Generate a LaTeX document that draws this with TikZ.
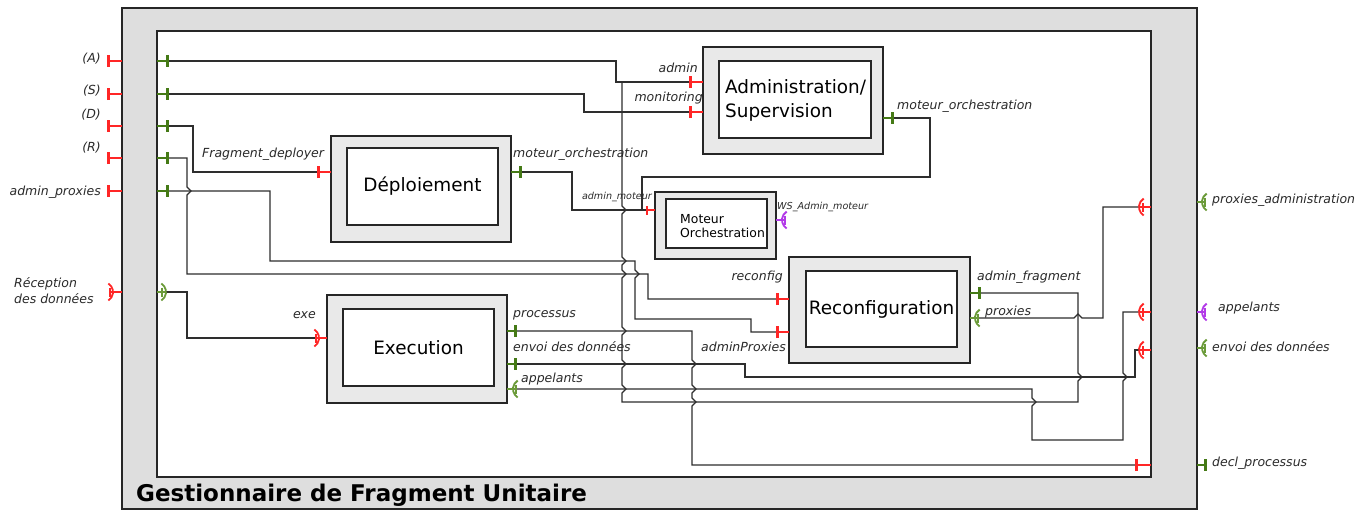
\documentclass[tikz,border=0pt]{standalone}
\usepackage{fontspec}
\setmainfont{DejaVu Sans}
\definecolor{pred}{HTML}{FF2626}
\definecolor{pgreen}{HTML}{457A16}
\definecolor{psgreen}{HTML}{6A9A38}
\definecolor{ppurple}{HTML}{B23AE8}
\definecolor{wirec}{HTML}{2E2E2E}
\definecolor{boxline}{HTML}{262626}
\definecolor{framegray}{HTML}{DEDEDE}
\definecolor{boxgray}{HTML}{E9E9E9}
\definecolor{lblc}{HTML}{2A2A2A}
\tikzset{
  plen/.code={\def\plen{#1}},
  plen=10,
  tport/.pic={
    \draw[line width=1.6pt] (0,0) -- (\plen,0);
    \draw[line width=3pt] (\plen,-6) -- (\plen,6);
  },
  tsmall/.pic={
    \draw[line width=1.4pt] (0,0) -- (\plen,0);
    \draw[line width=2.4pt] (\plen,-4.5) -- (\plen,4.5);
  },
  sockout/.pic={
    \draw[line width=1.6pt] (0,0) -- (\plen+3,0);
    \draw[line width=1.6pt] (\plen+3,-4.5) -- (\plen+3,4.5);
    \draw[line width=1.8pt] (\plen+10,0) ++(122:10) arc[start angle=122,end angle=238,radius=10];
  },
  sockin/.pic={
    \draw[line width=1.6pt] (0,0) -- (\plen+4,0);
    \draw[line width=1.6pt] (\plen,-4.5) -- (\plen,4.5);
    \draw[line width=1.8pt] (\plen-6,0) ++(-58:10) arc[start angle=-58,end angle=58,radius=10];
  },
}
\begin{document}
\begin{tikzpicture}[x=1pt,y=-1pt,
  wire/.style={draw=wirec,line width=1.2pt},
  cbox/.style={draw=boxline,fill=boxgray,line width=2pt,inner sep=0pt},
  ibox/.style={draw=boxline,fill=white,line width=2pt,inner sep=0pt,font=\fontsize{18.4}{24}\selectfont},
  lbl/.style={inner sep=0pt,text=lblc,font=\fontsize{12.5}{15}\selectfont\itshape},
  slbl/.style={inner sep=0pt,text=lblc,font=\fontsize{9.6}{11}\selectfont\itshape},
]
\useasboundingbox (0,0) rectangle (1359,511);
% frame
\node[draw=boxline,fill=framegray,line width=2pt,inner sep=0pt,minimum width=1075,minimum height=501] (frame) at (659.5,258.5) {};
\node[draw=boxline,fill=white,line width=2pt,inner sep=0pt,minimum width=994,minimum height=446] (inner) at (654,254) {};
\node[anchor=west,inner sep=0pt,font=\fontsize{23}{28}\selectfont\bfseries] (title) at (136,495) {Gestionnaire de Fragment Unitaire};

% components
\node[cbox,minimum width=180,minimum height=106] (dep) at (421,189) {};
\node[ibox,minimum width=151,minimum height=77] (depi) at (422.5,186.5) {Déploiement};
\node[cbox,minimum width=180,minimum height=107] (adm) at (793,100.5) {};
\node[ibox,minimum width=152,minimum height=77] (admi) at (795,99.5) {};
\node[anchor=west,inner sep=0pt,align=left,font=\fontsize{18.4}{24}\selectfont] (admt) at (725,100) {Administration/\\Supervision};
\node[cbox,minimum width=121,minimum height=67] (mot) at (715.5,225.5) {};
\node[ibox,minimum width=101,minimum height=49] (moti) at (716.5,223.5) {};
\node[anchor=west,inner sep=0pt,align=left,font=\fontsize{12.4}{14.5}\selectfont] (mott) at (680,226) {Moteur\\Orchestration};
\node[cbox,minimum width=181,minimum height=106] (rec) at (879.5,310) {};
\node[ibox,minimum width=151,minimum height=76] (reci) at (881.5,309) {Reconfiguration};
\node[cbox,minimum width=180,minimum height=108] (exec) at (417,349) {};
\node[ibox,minimum width=151,minimum height=77] (execi) at (418.5,347.5) {Execution};

% wire end coordinates
\coordinate (iA) at (167,61);
\coordinate (iS) at (167,94);
\coordinate (iD) at (167,126);
\coordinate (iR) at (167,158);
\coordinate (iP) at (167,191);
\coordinate (iRec) at (165,292);
\coordinate (fragdep) at (318,172);
\coordinate (depmo) at (520,172);
\coordinate (padm) at (690,82);
\coordinate (pmon) at (690,112);
\coordinate (admmo) at (892,118);
\coordinate (amot) at (647,210);
\coordinate (jm) at (642,210);
\coordinate (ja) at (622,82);
\coordinate (recf) at (777,299);
\coordinate (adp) at (777,332);
\coordinate (afrag) at (979,293);
\coordinate (prox) at (978,318);
\coordinate (exe) at (316,338);
\coordinate (proc) at (515,331);
\coordinate (envE) at (515,364);
\coordinate (appE) at (516,389);
\coordinate (ipa) at (1140,207);
\coordinate (iapp) at (1140,312);
\coordinate (ienv) at (1140,350);
\coordinate (idecl) at (1136,465);

% wires
\draw[wire] (iA) -- (616,61) -- (616,82) -- (padm);
\draw[wire] (iS) -- (584,94) -- (584,112) -- (pmon);
\draw[wire] (iD) -- (193,126) -- (193,172) -- (fragdep);
\draw[wire] (iR) -- (187,158) -- (187,187) -- (191,191) -- (187,195) -- (187,274) -- (648,274) -- (648,299) -- (recf);
\draw[wire] (iP) -- (270,191) -- (270,261) -- (635,261) -- (635,270) -- (639,274) -- (635,278) -- (635,319) -- (751,319) -- (751,332) -- (adp);
\draw[wire] (iRec) -- (187,292) -- (187,338) -- (exe);
\draw[wire] (depmo) -- (572,172) -- (572,210) -- (amot);
\draw[wire] (admmo) -- (930,118) -- (930,177) -- (642,177) -- (jm);
\draw[wire] (afrag) -- (1078,293) -- (1078,373) -- (1082,377) -- (1078,381) -- (1078,402) -- (622,402)
  -- (622,393) -- (626,389) -- (622,385) -- (622,368) -- (626,364) -- (622,360)
  -- (622,335) -- (626,331) -- (622,327) -- (622,278) -- (626,274) -- (622,270)
  -- (622,265) -- (626,261) -- (622,257) -- (622,214) -- (626,210) -- (622,206) -- (ja);
\draw[wire] (prox) -- (1074,318) -- (1078,314) -- (1082,318) -- (1103,318) -- (1103,207) -- (ipa);
\draw[wire] (proc) -- (692,331) -- (692,360) -- (696,364) -- (692,368) -- (692,385) -- (696,389) -- (692,393)
  -- (692,398) -- (696,402) -- (692,406) -- (692,465) -- (idecl);
\draw[wire] (envE) -- (745,364) -- (745,377) -- (1135,377) -- (1135,350) -- (ienv);
\draw[wire] (appE) -- (1032,389) -- (1032,398) -- (1036,402) -- (1032,406) -- (1032,440) -- (1123,440)
  -- (1123,381) -- (1127,377) -- (1123,373) -- (1123,312) -- (iapp);

% ports: outer left
\foreach \yy in {61,94,126,158,191} {
  \pic[pred,rotate=180,plen=14] at (122,\yy) {tport};
  \pic[pgreen,plen=10] at (157,\yy) {tport};
}
\pic[pred,rotate=180,plen=9] at (122,292) {sockout};
\pic[psgreen,plen=5] at (157,292) {sockin};
% Deploiement
\pic[pred,rotate=180,plen=13] at (331,172) {tport};
\pic[pgreen,plen=9] at (511,172) {tport};
% Administration
\pic[pred,rotate=180,plen=13] at (703,82) {tport};
\pic[pred,rotate=180,plen=13] at (703,112) {tport};
\pic[pgreen,plen=9] at (883,118) {tport};
% Moteur
\pic[pred,rotate=180,plen=8] at (655,210) {tsmall};
\pic[ppurple,plen=6] at (776,220) {sockout};
% Reconfiguration
\pic[pred,rotate=180,plen=12] at (789,299) {tport};
\pic[pred,rotate=180,plen=12] at (789,332) {tport};
\pic[pgreen,plen=9] at (970,293) {tport};
\pic[psgreen,plen=5] at (970,318) {sockout};
% Execution
\pic[pred,rotate=180,plen=8] at (327,338) {sockout};
\pic[pgreen,plen=8] at (507,331) {tport};
\pic[pgreen,plen=8] at (507,364) {tport};
\pic[psgreen,plen=6] at (507,389) {sockout};
% inner right
\pic[pred,rotate=180,plen=8] at (1151,207) {sockin};
\pic[pred,rotate=180,plen=8] at (1151,312) {sockin};
\pic[pred,rotate=180,plen=8] at (1151,350) {sockin};
\pic[pred,rotate=180,plen=15] at (1151,465) {tport};
% outer right
\pic[psgreen,plen=5] at (1197,202) {sockout};
\pic[ppurple,plen=5] at (1197,312) {sockout};
\pic[psgreen,plen=5] at (1197,348) {sockout};
\pic[pgreen,plen=8] at (1197,465) {tport};

% labels
\node[lbl,anchor=east] (lA) at (101,59) {(A)};
\node[lbl,anchor=east] (lS) at (101,91) {(S)};
\node[lbl,anchor=east] (lD) at (101,115) {(D)};
\node[lbl,anchor=east] (lR) at (101,148) {(R)};
\node[lbl,anchor=east] (lP) at (101,192) {admin\_proxies};
\node[lbl,anchor=west,align=left,font=\fontsize{12.5}{16}\selectfont\itshape] (lRec) at (14,291) {Réception\\des données};
\node[lbl,anchor=west] (lfd) at (202,154) {Fragment\_deployer};
\node[lbl,anchor=west] (ldm) at (513,154) {moteur\_orchestration};
\node[lbl,anchor=east] (ladm) at (698,68) {admin};
\node[lbl,anchor=east] (lmon) at (703,98) {monitoring};
\node[lbl,anchor=west] (lamo) at (897,106) {moteur\_orchestration};
\node[slbl,anchor=east] (lam) at (652,197) {admin\_moteur};
\node[slbl,anchor=west] (lws) at (777,207) {WS\_Admin\_moteur};
\node[lbl,anchor=east] (lrc) at (783,277) {reconfig};
\node[lbl,anchor=east] (lap) at (786,347) {adminProxies};
\node[lbl,anchor=west] (laf) at (977,277) {admin\_fragment};
\node[lbl,anchor=west] (lpx) at (985,312) {proxies};
\node[lbl,anchor=west] (lpa) at (1212,200) {proxies\_administration};
\node[lbl,anchor=west] (lapr) at (1218,308) {appelants};
\node[lbl,anchor=west] (lenr) at (1212,347) {envoi des données};
\node[lbl,anchor=west] (ldp) at (1212,463) {decl\_processus};
\node[lbl,anchor=east] (lexe) at (316,315) {exe};
\node[lbl,anchor=west] (lproc) at (513,315) {processus};
\node[lbl,anchor=west] (lenv) at (513,347) {envoi des données};
\node[lbl,anchor=west] (lappe) at (521,379) {appelants};
\end{tikzpicture}
\end{document}
